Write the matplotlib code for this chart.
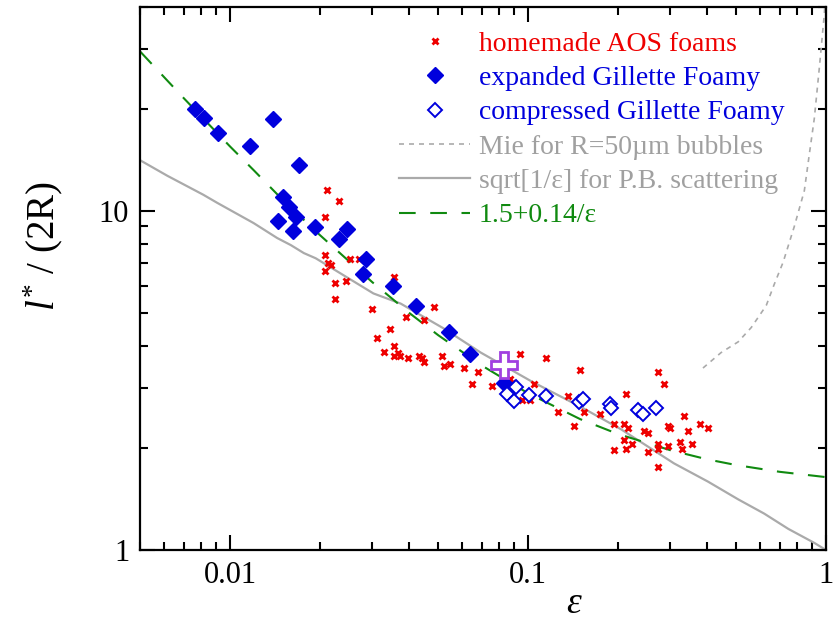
import matplotlib
matplotlib.use("Agg")
import matplotlib.pyplot as plt
from matplotlib.ticker import LogLocator, FuncFormatter, NullFormatter


# -----------------------------
# Data
# -----------------------------
# homemade AOS foams (red crosses)
aos_eps = [
    0.0211, 0.0233, 0.0208, 0.0208, 0.0214, 0.0218, 0.0208, 0.0252, 0.0272,
    0.0225, 0.0246, 0.0225, 0.0354, 0.0299, 0.0389, 0.0483, 0.0447, 0.0344,
    0.0311, 0.0354, 0.0328, 0.0354, 0.0366, 0.0371, 0.0395, 0.0430, 0.0440,
    0.0447, 0.0514, 0.0522, 0.0547, 0.0609, 0.0679, 0.0648, 0.0757, 0.0870,
    0.0884, 0.0940, 0.1149, 0.1047, 0.0954, 0.1015, 0.1495, 0.2734, 0.2864,
    0.1362, 0.2135, 0.1261, 0.1542, 0.1745, 0.1427, 0.1945, 0.2101, 0.2168,
    0.2454, 0.2530, 0.3343, 0.2954, 0.3001, 0.3449, 0.3784, 0.4025, 0.2101,
    0.1945, 0.2135, 0.2236, 0.2530, 0.2734, 0.2734, 0.2954, 0.3241, 0.3292,
    0.3557, 0.2734,
]
aos_l = [
    11.54, 10.71, 9.60, 7.40, 7.01, 6.92, 6.64, 7.20, 7.20,
    6.11, 6.20, 5.48, 6.37, 5.12, 4.85, 5.19, 4.78, 4.47,
    4.23, 4.00, 3.84, 3.74, 3.82, 3.74, 3.69, 3.74, 3.69,
    3.59, 3.74, 3.49, 3.54, 3.44, 3.35, 3.09, 3.04, 3.19,
    3.11, 3.79, 3.69, 3.09, 2.77, 2.77, 3.40, 3.35, 3.09,
    2.84, 2.88, 2.55, 2.55, 2.52, 2.32, 2.35, 2.35, 2.29,
    2.25, 2.22, 2.48, 2.32, 2.29, 2.25, 2.35, 2.29, 2.11,
    1.97, 1.99, 2.05, 1.94, 2.05, 1.99, 2.02, 2.08, 1.99,
    2.05, 1.76,
]

# expanded Gillette Foamy (filled diamonds)
exp_eps = [
    0.00765, 0.00821, 0.00914, 0.0140, 0.01163, 0.01699, 0.01512, 0.01584,
    0.01455, 0.01672, 0.01634, 0.01922, 0.02315, 0.02462, 0.02853, 0.02788,
    0.03516, 0.0420, 0.0542, 0.0638, 0.0830,
]
exp_l = [
    19.94, 18.75, 16.93, 18.62, 15.49, 13.69, 11.0, 10.28,
    9.34, 9.60, 8.72, 8.97, 8.26, 8.84, 7.20, 6.50,
    5.99, 5.26, 4.40, 3.79, 3.11,
]

# compressed Gillette Foamy (open diamonds)
comp_eps = [0.0850, 0.0911, 0.0897, 0.1007, 0.1149, 0.1484, 0.1530, 0.1886,
            0.190, 0.234, 0.2435, 0.269]
comp_l = [2.88, 3.02, 2.75, 2.86, 2.84, 2.73, 2.79, 2.69, 2.62, 2.59, 2.52, 2.62]

# single purple point
plus_eps = [0.0830]
plus_l = [3.52]

# Mie for R=50um bubbles (gray dotted)
mie_eps = [0.387, 0.445, 0.508, 0.562, 0.631, 0.671, 0.719, 0.783, 0.847,
           0.880, 0.915, 0.951, 0.988, 0.992]
mie_l = [3.44, 3.82, 4.11, 4.53, 5.26, 6.07, 7.06, 8.97, 11.47,
         14.66, 18.75, 26.4, 37.9, 40.0]

# sqrt[1/eps] for P.B. scattering (gray solid)
pb_eps = [0.005, 0.00616, 0.00814, 0.00907, 0.0120, 0.0144, 0.0160, 0.0177,
          0.0194, 0.0303, 0.0374, 0.0522, 0.0695, 0.1023, 0.1507, 0.2053,
          0.2397, 0.3094, 0.4025, 0.508, 0.621, 0.748, 0.915, 1.0]
pb_l = [14.1, 12.7, 11.16, 10.56, 9.21, 8.32, 7.93, 7.51,
        7.25, 5.71, 5.33, 4.50, 3.82, 3.15, 2.64, 2.27,
        2.08, 1.80, 1.59, 1.41, 1.28, 1.154, 1.049, 1.0]

# 1.5+0.14/eps (green dashed)
fit_eps = [0.005, 0.007, 0.01, 0.012, 0.015, 0.02, 0.03, 0.04, 0.05, 0.07,
           0.1, 0.15, 0.2, 0.3, 0.4, 0.5, 0.7, 1.0]
fit_l = [29.5, 21.5, 15.5, 13.2, 10.8, 8.5, 6.17, 5.0, 4.3, 3.5,
         2.9, 2.43, 2.2, 1.97, 1.85, 1.78, 1.70, 1.64]

labels = [
    "homemade AOS foams",
    "expanded Gillette Foamy",
    "compressed Gillette Foamy",
    "Mie for R=50\u00b5m bubbles",
    "sqrt[1/\u03b5] for P.B. scattering",
    "1.5+0.14/\u03b5",
]

RED = "#ee0000"
BLUE = "#0000dd"
GRAY = "#aaaaaa"
GREEN = "#108a10"
PURPLE = "#a040e0"


# -----------------------------
# Plot
# -----------------------------
plt.rcParams["font.family"] = ["Liberation Serif", "DejaVu Serif"]
plt.rcParams["mathtext.fontset"] = "custom"
plt.rcParams["mathtext.rm"] = "Liberation Serif"
plt.rcParams["mathtext.it"] = "Liberation Serif:italic"

fig = plt.figure(figsize=(8.35, 6.2), dpi=100)
ax = fig.add_axes([0.168, 0.113, 0.821, 0.876])

h_pb, = ax.plot(pb_eps, pb_l, color=GRAY, lw=1.6)
h_mie, = ax.plot(mie_eps, mie_l, color=GRAY, lw=1.2, dashes=(3, 3))
h_fit, = ax.plot(fit_eps, fit_l, color=GREEN, lw=1.5, dashes=(8, 7))

h_aos, = ax.plot(aos_eps, aos_l, ls="none", marker="x", ms=5, mew=2,
                 color=RED)
h_exp, = ax.plot(exp_eps, exp_l, ls="none", marker="D", ms=8, color=BLUE,
                 mec=BLUE)
h_comp, = ax.plot(comp_eps, comp_l, ls="none", marker="D", ms=7.5, mfc="white",
                  mec=BLUE, mew=1.4)
ax.plot(plus_eps, plus_l, ls="none", marker="P", ms=19, mfc="white",
        mec=PURPLE, mew=2)

ax.set_xscale("log")
ax.set_yscale("log")
ax.set_xlim(0.005, 1)
ax.set_ylim(1, 40)

fmt = FuncFormatter(lambda v, p: "{:g}".format(v))
ax.xaxis.set_major_locator(LogLocator(base=10))
ax.xaxis.set_minor_locator(LogLocator(base=10, subs=range(2, 10)))
ax.yaxis.set_major_locator(LogLocator(base=10))
ax.yaxis.set_minor_locator(LogLocator(base=10, subs=range(2, 10)))
ax.xaxis.set_major_formatter(fmt)
ax.yaxis.set_major_formatter(fmt)
ax.xaxis.set_minor_formatter(NullFormatter())
ax.yaxis.set_minor_formatter(NullFormatter())

ax.tick_params(which="both", direction="in", top=True, right=True,
               labelsize=22, width=1.5, pad=8)
ax.tick_params(which="major", length=11)
ax.tick_params(which="minor", length=6)
for sp in ax.spines.values():
    sp.set_linewidth(1.6)

ax.set_xlabel("$\\varepsilon$", fontsize=27)
ax.xaxis.set_label_coords(0.633, -0.068)
ax.set_ylabel("$l^{*}$ / (2R)", fontsize=28)
ax.yaxis.set_label_coords(-0.11, 0.56)

leg = ax.legend(
    [h_aos, h_exp, h_comp, h_mie, h_pb, h_fit], labels,
    loc="upper left", bbox_to_anchor=(0.378, 0.955),
    frameon=False, fontsize=20, handlelength=2.55, handletextpad=0.3,
    labelspacing=0.32, borderpad=0, borderaxespad=0,
    labelcolor=[RED, BLUE, BLUE, "#a0a0a0", "#a0a0a0", GREEN],
)

fig.savefig("out.png", dpi=100)
